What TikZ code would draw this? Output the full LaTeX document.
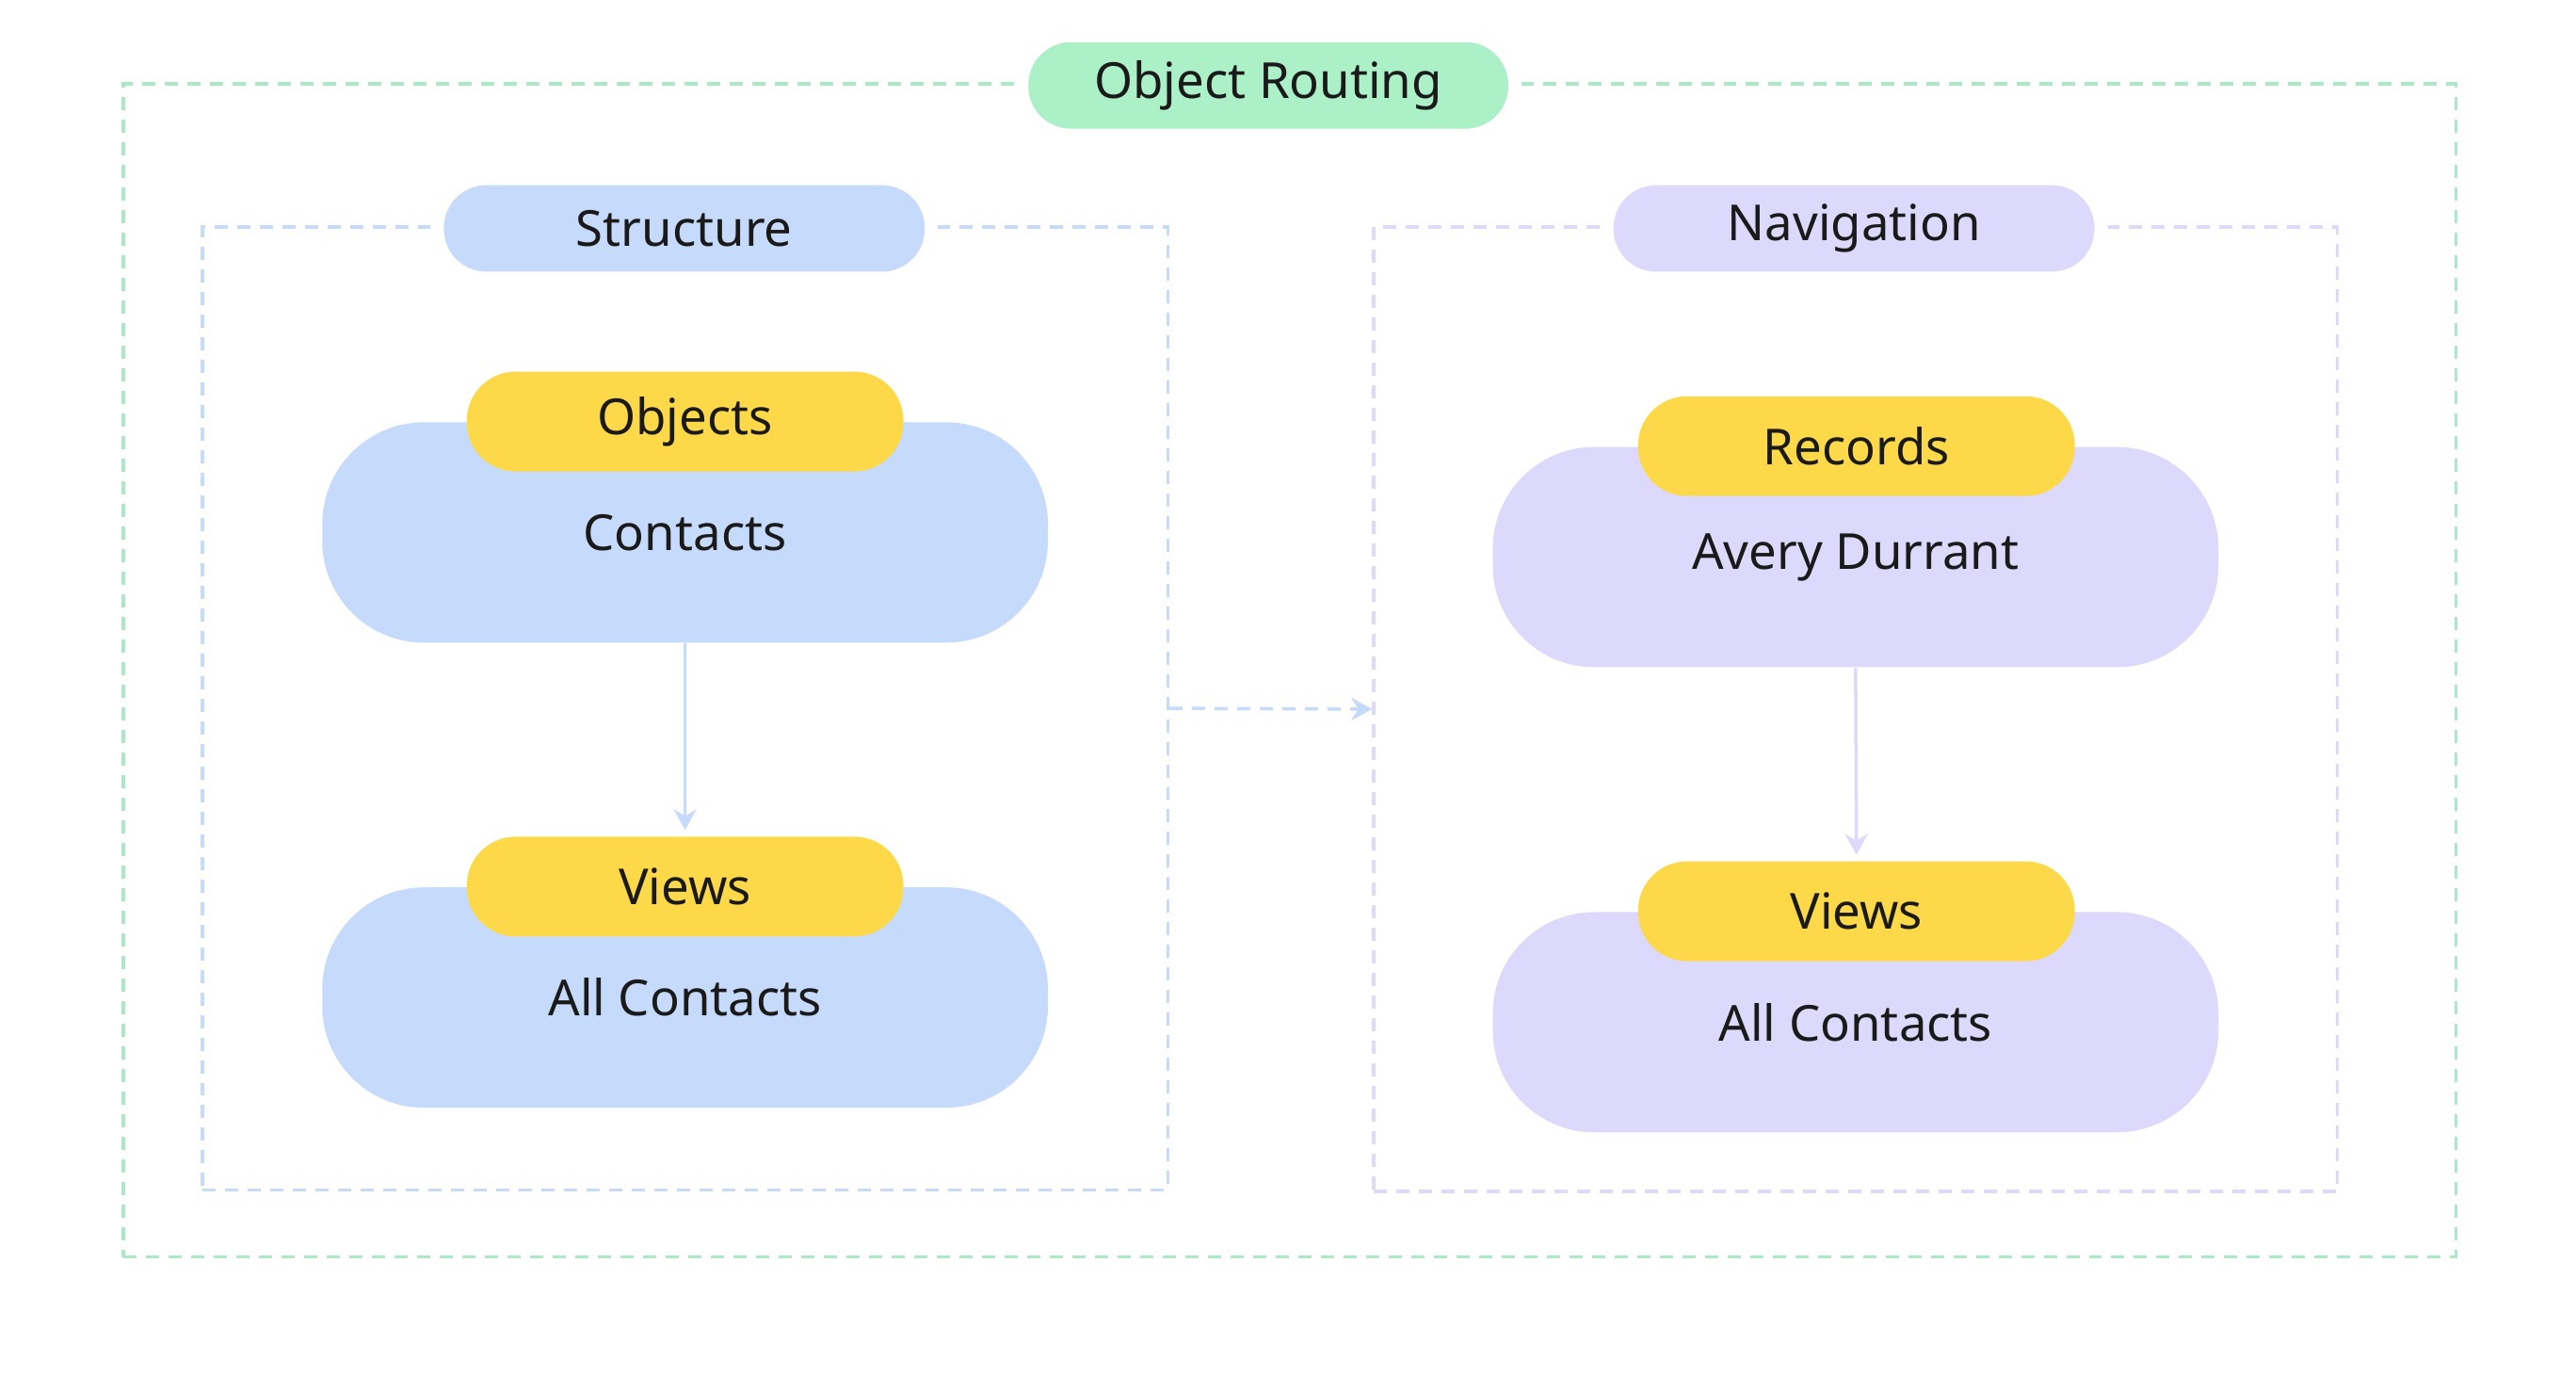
\documentclass[tikz,border=0pt]{standalone}
\usepackage{fontspec}
\setmainfont{Noto Sans}
\usetikzlibrary{arrows.meta}
\definecolor{gline}{HTML}{A9E9C5}
\definecolor{gfill}{HTML}{ABF0C7}
\definecolor{bfill}{HTML}{C6DBFC}
\definecolor{pfill}{HTML}{DDD9FD}
\definecolor{yfill}{HTML}{FDD94A}
\definecolor{txt}{HTML}{1A1A1A}
\tikzset{
  dsh/.style={dash pattern=on 0.14cm off 0.1cm, line width=1pt},
  cluster/.style={dsh, rectangle, inner sep=0pt},
  pill/.style={rectangle, rounded corners=0.52cm, minimum height=1.06cm, draw=white, line width=4pt, text=txt, font=\fontsize{15}{18}\selectfont},
  big/.style={rectangle, rounded corners=1.08cm, minimum width=7.71cm, minimum height=2.34cm, text=txt, font=\fontsize{15}{18}\selectfont},
  conn/.style={line width=1pt, -{Stealth[length=0.22cm,width=0.24cm]}}
}
\begin{document}
\begin{tikzpicture}[x=0.01745cm,y=-0.01745cm]
\useasboundingbox[fill=white] (0,0) rectangle (1568,837);
\node[cluster, draw=gline, minimum width=24.78cm, minimum height=12.46cm] (outer) at (785,408) {};
\node[cluster, draw=bfill, minimum width=10.26cm, minimum height=10.23cm] (sL) at (417,431) {};
\node[cluster, draw=pfill, minimum width=10.24cm, minimum height=10.24cm] (nv) at (1129.5,431.5) {};
\node[pill, fill=gfill, minimum width=5.24cm] (title) at (772,52) {Object Routing};
\node[pill, fill=bfill, minimum width=5.25cm] (st) at (416.5,139) {Structure};
\node[pill, fill=pfill, minimum width=5.25cm] (na) at (1128.5,139) {Navigation};
\node[big, fill=bfill] (c1) at (417,324) {Contacts};
\node[big, fill=bfill] (c2) at (417,607) {All Contacts};
\node[big, fill=pfill] (c3) at (1129.5,339) {Avery Durrant};
\node[big, fill=pfill] (c4) at (1129.5,622) {All Contacts};
\node[pill, fill=yfill, minimum width=4.64cm, draw=none] (o1) at (417,256.5) {Objects};
\node[pill, fill=yfill, minimum width=4.64cm, draw=none] (o2) at (417,539.5) {Views};
\node[pill, fill=yfill, minimum width=4.64cm, draw=none] (o3) at (1130,271.5) {Records};
\node[pill, fill=yfill, minimum width=4.64cm, draw=none] (o4) at (1130,554.5) {Views};
\draw[conn, draw=bfill] (c1.south) -- (o2.north);
\draw[conn, draw=pfill] (c3.south) -- (o4.north);
\draw[conn, dsh, draw=bfill] (sL.east) -- (nv.west);
\end{tikzpicture}
\end{document}
